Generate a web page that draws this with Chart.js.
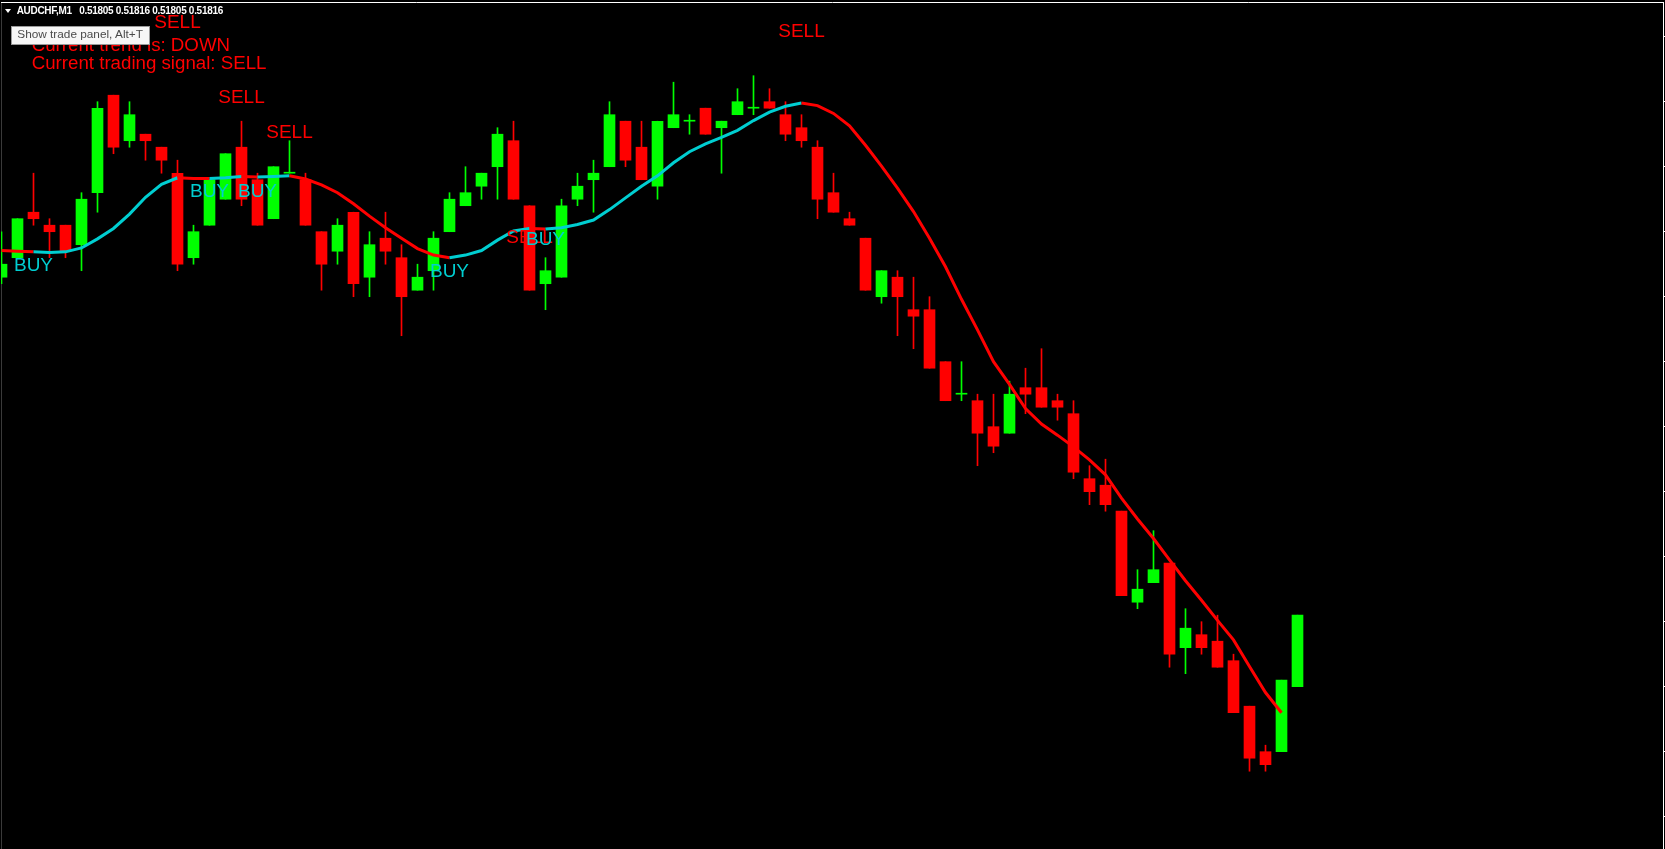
<!DOCTYPE html>
<html>
<head>
<meta charset="utf-8">
<script src="https://cdn.jsdelivr.net/npm/chart.js@4.4.1/dist/chart.umd.min.js"></script>
<style>
  html, body { margin: 0; padding: 0; background: #000; overflow: hidden; }
  #wrap { position: relative; width: 1665px; height: 849px; background: #000; }
  #c { position: absolute; left: 0; top: 0; }
  .t { position: absolute; white-space: pre; font-family: "Liberation Sans", Arial, sans-serif; }
  #tri { position: absolute; left: 5px; top: 9px; width: 0; height: 0;
         border-left: 3px solid transparent; border-right: 3px solid transparent; border-top: 4px solid #fff; }
  #tipbox { position: absolute; left: 11px; top: 26px; width: 139px; height: 19px; box-sizing: border-box;
            background: #f7f7f7; border: 1px solid #9a9a9a; }
</style>
</head>
<body>
<div id="wrap">
  <canvas id="c" width="1665" height="849"></canvas>
  <div class="t" id="trendTxt" style="left:31.7px; top:35.9px; font-size:18.7px; line-height:18.7px; color:#ff0000;">Current trend is: DOWN</div>
  <div class="t" id="signalTxt" style="left:31.7px; top:54.2px; font-size:18.7px; line-height:18.7px; color:#ff0000;">Current trading signal: SELL</div>
  <div id="tipbox"></div>
  <div class="t" id="tipTxt" style="left:17.3px; top:29.4px; font-size:11.8px; line-height:11.8px; color:#4a4a4a;">Show trade panel, Alt+T</div>
  <div id="tri"></div>
  <div class="t" id="symTxt" style="left:16.7px; top:5.6px; font-size:10px; line-height:10px; letter-spacing:-0.3px; font-weight:bold; color:#fff;"></div>
  <div class="t" id="ohlcTxt" style="left:79.3px; top:5.6px; font-size:10px; line-height:10px; letter-spacing:-0.3px; font-weight:bold; color:#fff;"></div>
</div>
<script>
// ---------------- data ----------------
const symbol = 'AUDCHF,M1';
const opens  = [0.51868,0.51871,0.51878,0.51876,0.51876,0.51873,0.51881,0.51896,0.51889,0.51890,
                0.51888,0.51884,0.51871,0.51876,0.51880,0.51888,0.51883,0.51877,0.51884,0.51883,
                0.51875,0.51872,0.51878,0.51868,0.51874,0.51871,0.51866,0.51869,0.51875,0.51879,
                0.51882,0.51885,0.51889,0.51879,0.51867,0.51868,0.51880,0.51883,0.51885,0.51892,
                0.51888,0.51882,0.51891,0.51892,0.51894,0.51891,0.51893,0.51894,0.51895,0.51893,
                0.51891,0.51888,0.51881,0.51877,0.51874,0.51865,0.51868,0.51863,0.51863,0.51855,
                0.51850,0.51849,0.51845,0.51844,0.51851,0.51851,0.51849,0.51847,0.51837,0.51836,
                0.51832,0.51818,0.51821,0.51824,0.51811,0.51813,0.51812,0.51809,0.51802,0.51795,
                0.51795,0.51805];
const highs  = [0.51875,0.51877,0.51884,0.51877,0.51876,0.51881,0.51895,0.51896,0.51895,0.51890,
                0.51888,0.51886,0.51876,0.51883,0.51887,0.51892,0.51884,0.51885,0.51889,0.51884,
                0.51875,0.51877,0.51878,0.51875,0.51878,0.51873,0.51870,0.51875,0.51881,0.51885,
                0.51884,0.51891,0.51892,0.51879,0.51871,0.51880,0.51884,0.51886,0.51895,0.51892,
                0.51892,0.51892,0.51898,0.51893,0.51894,0.51892,0.51897,0.51899,0.51897,0.51895,
                0.51893,0.51889,0.51884,0.51878,0.51874,0.51869,0.51869,0.51868,0.51865,0.51855,
                0.51855,0.51850,0.51850,0.51852,0.51854,0.51857,0.51850,0.51849,0.51839,0.51840,
                0.51832,0.51823,0.51829,0.51824,0.51817,0.51815,0.51816,0.51810,0.51802,0.51796,
                0.51806,0.51816];
const lows   = [0.51867,0.51871,0.51876,0.51871,0.51871,0.51869,0.51878,0.51887,0.51888,0.51886,
                0.51884,0.51869,0.51870,0.51876,0.51880,0.51879,0.51876,0.51877,0.51884,0.51876,
                0.51866,0.51870,0.51865,0.51865,0.51870,0.51859,0.51866,0.51866,0.51875,0.51879,
                0.51880,0.51880,0.51880,0.51866,0.51863,0.51868,0.51879,0.51878,0.51885,0.51885,
                0.51883,0.51880,0.51891,0.51890,0.51890,0.51884,0.51893,0.51893,0.51894,0.51889,
                0.51888,0.51877,0.51878,0.51876,0.51866,0.51864,0.51859,0.51857,0.51854,0.51849,
                0.51849,0.51839,0.51841,0.51844,0.51847,0.51848,0.51846,0.51837,0.51833,0.51832,
                0.51819,0.51817,0.51821,0.51808,0.51807,0.51810,0.51808,0.51801,0.51792,0.51792,
                0.51795,0.51805];
const closes = [0.51870,0.51877,0.51877,0.51875,0.51872,0.51880,0.51894,0.51888,0.51893,0.51889,
                0.51886,0.51870,0.51875,0.51883,0.51887,0.51880,0.51876,0.51885,0.51884,0.51876,
                0.51870,0.51876,0.51867,0.51873,0.51872,0.51865,0.51868,0.51874,0.51880,0.51881,
                0.51884,0.51890,0.51880,0.51866,0.51869,0.51879,0.51882,0.51884,0.51893,0.51886,
                0.51883,0.51892,0.51893,0.51892,0.51890,0.51892,0.51895,0.51894,0.51894,0.51890,
                0.51889,0.51880,0.51878,0.51876,0.51866,0.51869,0.51865,0.51862,0.51854,0.51849,
                0.51850,0.51844,0.51842,0.51850,0.51850,0.51848,0.51848,0.51838,0.51835,0.51833,
                0.51819,0.51820,0.51823,0.51810,0.51814,0.51811,0.51808,0.51801,0.51794,0.51793,
                0.51806,0.51816];
// trend moving average (one value per bar, none on the forming bar)
const maValues = [0.518721,0.518720,0.518719,0.518718,0.518719,0.518725,0.518739,0.518755,0.518777,0.518803,
                  0.518823,0.518833,0.518832,0.518832,0.518833,0.518835,0.518834,0.518835,0.518836,0.518831,
                  0.518822,0.518810,0.518793,0.518774,0.518756,0.518740,0.518724,0.518714,0.518710,0.518714,
                  0.518721,0.518737,0.518751,0.518755,0.518754,0.518756,0.518761,0.518768,0.518784,0.518802,
                  0.518820,0.518836,0.518856,0.518873,0.518885,0.518895,0.518906,0.518921,0.518934,0.518943,
                  0.518948,0.518944,0.518932,0.518913,0.518883,0.518851,0.518817,0.518781,0.518740,0.518696,
                  0.518646,0.518599,0.518550,0.518515,0.518478,0.518454,0.518437,0.518419,0.518399,0.518376,
                  0.518340,0.518308,0.518278,0.518245,0.518213,0.518183,0.518152,0.518122,0.518081,0.518041,
                  0.518010,null];
// signals: bar index, type, price where the label sits
const signalBars   = [2, 11, 13, 15, 16, 18, 28, 33, 34, 50];
const signalTypes  = ['BUY','SELL','BUY','SELL','BUY','SELL','BUY','SELL','BUY','SELL'];
const signalPrices = [0.518689,0.519063,0.518804,0.518948,0.518804,0.518894,0.518681,0.518732,0.518730,0.519049];
// price-axis tick values
const tickValues = [0.51905,0.51895,0.51885,0.51875,0.51865,0.51855,0.51845,0.51835,0.51825,0.51815,0.51805,0.51795,0.51785];

// ---------------- styling ----------------
const GREEN = '#00ff00', RED = '#ff0000', CYAN = '#00ced1';
const barIndex = opens.map((_, i) => i);

document.getElementById('symTxt').textContent = symbol;
const last = opens.length - 1;
document.getElementById('ohlcTxt').textContent =
  [opens[last], highs[last], lows[last], closes[last]].map(v => v.toFixed(5)).join(' ');

function trendAt(k) {
  let t = 'SELL';
  for (let i = 0; i < signalBars.length; i++) if (signalBars[i] <= k) t = signalTypes[i];
  return t;
}
const candleColor = ctx => closes[ctx.dataIndex] >= opens[ctx.dataIndex] ? GREEN : RED;

const signalLabels = {
  id: 'signalLabels',
  afterDatasetsDraw(chart) {
    const { ctx, scales: { x, y } } = chart;
    ctx.save();
    ctx.font = '19px "Liberation Sans", Arial, sans-serif';
    ctx.textAlign = 'center';
    ctx.textBaseline = 'alphabetic';
    signalBars.forEach((b, i) => {
      ctx.fillStyle = signalTypes[i] === 'BUY' ? CYAN : RED;
      ctx.fillText(signalTypes[i], x.getPixelForValue(b), y.getPixelForValue(signalPrices[i]));
    });
    ctx.restore();
  }
};

new Chart(document.getElementById('c'), {
  type: 'bar',
  data: {
    datasets: [
      {
        type: 'line',
        label: 'Trend MA',
        data: barIndex.map(i => ({ x: i, y: maValues[i] })),
        borderColor: RED,
        borderWidth: 3,
        pointRadius: 0,
        tension: 0,
        segment: { borderColor: c => trendAt(c.p0DataIndex) === 'BUY' ? CYAN : RED },
        yAxisID: 'y', xAxisID: 'x',
        order: 0
      },
      {
        label: 'Body',
        data: barIndex.map(i => ({ x: i, y: [opens[i], closes[i]] })),
        backgroundColor: candleColor,
        borderWidth: 0,
        barThickness: 11,
        minBarLength: 1,
        grouped: false,
        yAxisID: 'y', xAxisID: 'x',
        order: 1
      },
      {
        label: 'Wick',
        data: barIndex.map(i => ({ x: i, y: [lows[i], highs[i]] })),
        backgroundColor: candleColor,
        borderWidth: 0,
        barThickness: 1,
        minBarLength: 1,
        grouped: false,
        yAxisID: 'y', xAxisID: 'x',
        order: 2
      }
    ]
  },
  options: {
    responsive: false,
    animation: false,
    devicePixelRatio: 1,
    events: [],
    layout: { padding: { top: 2, left: 1, right: 0, bottom: 0 } },
    plugins: { legend: { display: false }, tooltip: { enabled: false }, title: { display: false } },
    scales: {
      y: {
        type: 'linear', position: 'right',
        min: 0.5178003, max: 0.5191034, bounds: 'data', beginAtZero: false,
        afterBuildTicks: axis => { axis.ticks = tickValues.map(v => ({ value: v })); },
        grid: { display: true, drawOnChartArea: false, drawTicks: true, tickLength: 2, color: '#ffffff', lineWidth: 1 },
        border: { display: true, color: '#ffffff', width: 1 },
        ticks: { display: false }
      },
      yLeft: {
        type: 'linear', position: 'left', axis: 'y',
        grid: { display: false, drawTicks: false, tickLength: 0 },
        border: { display: true, color: '#3a3a3a', width: 1 },
        ticks: { display: false }
      },
      x: {
        type: 'linear', position: 'top',
        min: -0.03125, max: 103.84375, bounds: 'data', offset: false,
        grid: { display: false, offset: false, drawTicks: false, tickLength: 0 },
        border: { display: true, color: '#ffffff', width: 1 },
        ticks: { display: false }
      }
    }
  },
  plugins: [signalLabels]
});
</script>
</body>
</html>
